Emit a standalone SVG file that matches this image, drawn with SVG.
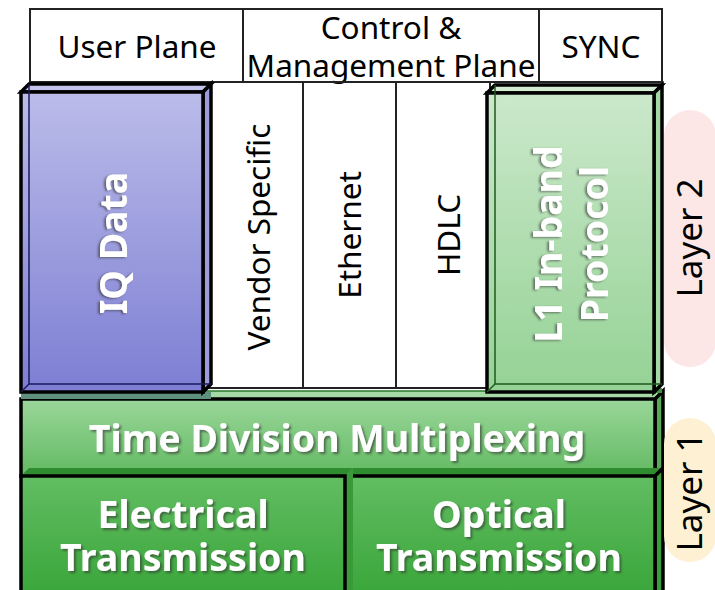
<svg xmlns="http://www.w3.org/2000/svg" width="715" height="590" viewBox="0 0 715 590">
<defs>
  <linearGradient id="iqG" x1="0" y1="0" x2="0" y2="1">
    <stop offset="0" stop-color="#bbbce9"/>
    <stop offset="1" stop-color="#7d7ed3"/>
  </linearGradient>
  <linearGradient id="l1G" x1="0" y1="0" x2="0" y2="1">
    <stop offset="0" stop-color="#cbe8cb"/>
    <stop offset="1" stop-color="#95d295"/>
  </linearGradient>
  <linearGradient id="tdmG" x1="0" y1="0" x2="0" y2="1">
    <stop offset="0" stop-color="#9ad69a"/>
    <stop offset="1" stop-color="#62ba62"/>
  </linearGradient>
  <linearGradient id="txG" x1="0" y1="0" x2="0" y2="1">
    <stop offset="0" stop-color="#62bd62"/>
    <stop offset="1" stop-color="#38a538"/>
  </linearGradient>
  <filter id="sh" x="-10%" y="-20%" width="120%" height="140%">
    <feDropShadow dx="2" dy="2" stdDeviation="1.2" flood-color="#333" flood-opacity="0.6"/>
  </filter>
  <filter id="shv" x="-20%" y="-10%" width="140%" height="120%">
    <feDropShadow dx="-2" dy="1" stdDeviation="1.2" flood-color="#333" flood-opacity="0.6"/>
  </filter>
</defs>
<style>
  .hdr { font-family: "Noto Sans", "Open Sans", sans-serif; font-size: 31.5px; fill: #000; text-anchor: middle; dominant-baseline: central; }
  .lay { font-family: "Noto Sans", "Open Sans", sans-serif; font-size: 35px; fill: #000; text-anchor: middle; dominant-baseline: central; }
  .bold { font-family: "Noto Sans", "Open Sans", sans-serif; font-weight: bold; font-size: 37.5px; fill: #fff; text-anchor: middle; dominant-baseline: central; }
  .line { stroke: #222; stroke-width: 2; fill: none; }
  .edge { stroke: #000; stroke-width: 3.5; stroke-linejoin: miter; }
  .back { stroke-width: 1.5; fill: none; }
</style>

<g id="header">
  <rect x="30" y="9" width="632" height="73" fill="#fff" class="line"/>
  <line x1="243" y1="9" x2="243" y2="82" class="line"/>
  <line x1="539" y1="9" x2="539" y2="82" class="line"/>
  <text x="137" y="45" class="hdr">User Plane</text>
  <text class="hdr"><tspan x="391" y="26">Control &amp;</tspan><tspan x="391" y="64">Management Plane</tspan></text>
  <text x="601" y="45" class="hdr">SYNC</text>
</g>

<g id="columns">
  <rect x="205" y="82" width="285" height="306" fill="#fff" class="line"/>
  <line x1="303" y1="82" x2="303" y2="388" class="line"/>
  <line x1="396" y1="82" x2="396" y2="388" class="line"/>
  <text transform="translate(257,237) rotate(-90)" class="hdr">Vendor Specific</text>
  <text transform="translate(348,235) rotate(-90)" class="hdr">Ethernet</text>
  <text transform="translate(447,235) rotate(-90)" class="hdr">HDLC</text>
</g>

<g id="tdm">
  <polygon points="21,399 29,391 663,391 655,399" fill="#a5d9a5" stroke="#2d7a2d" stroke-width="1.5"/>
  <polygon points="655,399 663,391 663,468 655,476" fill="#5aa85a" class="edge"/>
  <rect x="21" y="399" width="634" height="77" fill="url(#tdmG)" class="edge"/>
  <text x="337" y="437" class="bold" filter="url(#sh)">Time Division Multiplexing</text>
</g>

<g id="optical">
  <polygon points="345,476 353,468 663,468 655,476" fill="#2f8d2f"/>
  <polygon points="655,476 663,468 663,600 655,600" fill="#3b9c3b" class="edge"/>
  <rect x="345" y="476" width="310" height="124" fill="url(#txG)" class="edge"/>
  <text class="bold" filter="url(#sh)"><tspan x="499" y="513">Optical</tspan><tspan x="499" y="556">Transmission</tspan></text>
</g>

<g id="electrical">
  <polygon points="21,476 29,468 353,468 345,476" fill="#2f8d2f"/>
  <polygon points="345,476 353,468 353,600 345,600" fill="#3a9a3a"/>
  <rect x="21" y="476" width="324" height="124" fill="url(#txG)" class="edge"/>
  <text class="bold" filter="url(#sh)"><tspan x="183" y="513">Electrical</tspan><tspan x="183" y="556">Transmission</tspan></text>
</g>

<g id="iq-data">
  <rect x="21" y="392" width="190" height="7" fill="#5f907d"/>
  <polygon points="21,92 29,84 211,84 203,92" fill="#c4c4ec" class="edge"/>
  <polygon points="203,92 211,84 211,384 203,392" fill="#9c9cd8" class="edge"/>
  <rect x="21" y="92" width="182" height="300" fill="url(#iqG)" class="edge"/>
  <polyline points="29,84 29,384 211,384" class="back" stroke="#1a1a5c"/>
  <line x1="21" y1="392" x2="29" y2="384" class="back" stroke="#1a1a5c"/>
  <g filter="url(#shv)">
    <text transform="translate(112,243) rotate(-90)" class="bold">IQ Data</text>
  </g>
</g>

<g id="l1-inband">
  <rect x="487" y="388" width="175" height="5" fill="#3f8f3f"/>
  <polygon points="487,93 495,85 662,85 654,93" fill="#d2edd2" class="edge"/>
  <polygon points="654,93 662,85 662,384 654,392" fill="#a4d8a4" class="edge"/>
  <rect x="487" y="93" width="167" height="299" fill="url(#l1G)" class="edge"/>
  <polyline points="495,85 495,384 662,384" class="back" stroke="#1e5a1e"/>
  <line x1="487" y1="392" x2="495" y2="384" class="back" stroke="#1e5a1e"/>
  <g filter="url(#shv)">
    <text transform="translate(570,244) rotate(-90)" class="bold"><tspan x="0" y="-23">L1 In-band</tspan><tspan x="0" y="23">Protocol</tspan></text>
  </g>
</g>

<g id="layer2">
  <rect x="664" y="110" width="52" height="257" rx="26" ry="26" fill="#fde6e6"/>
  <text transform="translate(688,238) rotate(-90)" class="lay">Layer 2</text>
</g>

<g id="layer1">
  <rect x="664" y="418" width="52" height="144" rx="26" ry="26" fill="#fef0d2"/>
  <text transform="translate(688,492) rotate(-90)" class="lay">Layer 1</text>
</g>
</svg>
